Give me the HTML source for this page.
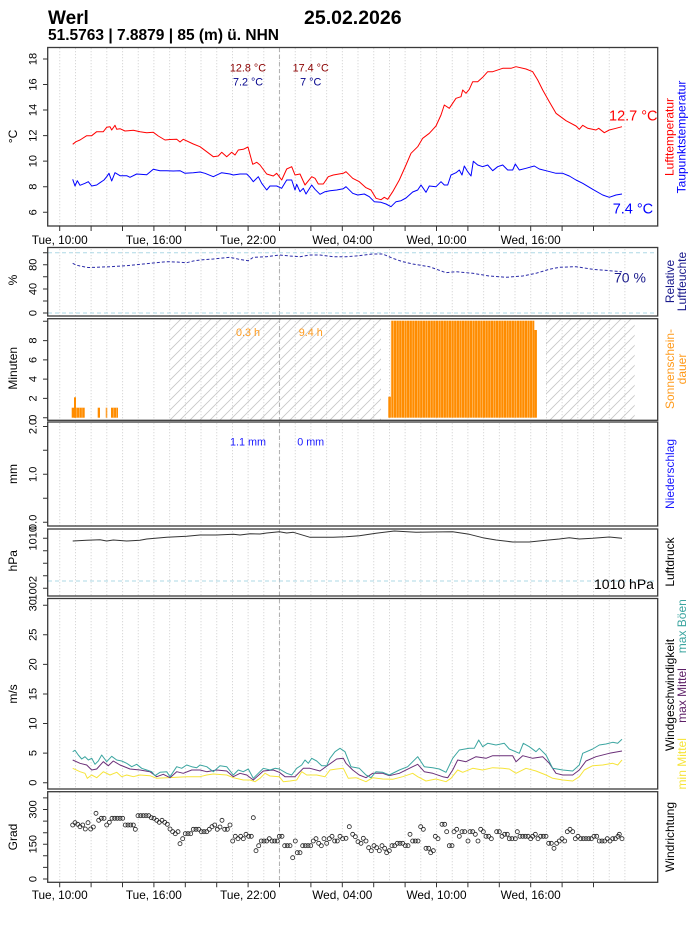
<!DOCTYPE html>
<html>
<head>
<meta charset="utf-8">
<style>
  html,body{margin:0;padding:0;background:#fff;}
  svg{display:block;font-family:"Liberation Sans",Arial,sans-serif;}
</style>
</head>
<body>
<svg width="696" height="930" viewBox="0 0 696 930" xmlns="http://www.w3.org/2000/svg">
<defs>
  <pattern id="grid" patternUnits="userSpaceOnUse" x="59.3" y="0" width="15.7" height="3">
    <rect x="0" y="0" width="0.8" height="1.3" fill="#cfcfcf"/>
  </pattern>
  <pattern id="hatch" patternUnits="userSpaceOnUse" x="0" y="0" width="10" height="10">
    <path d="M0,10 L10,0 M-2,2 L2,-2 M8,12 L12,8" stroke="#c6c6c6" stroke-width="0.8" fill="none"/>
  </pattern>
  <pattern id="sun" patternUnits="userSpaceOnUse" x="388.3" y="0" width="2.617" height="10">
    <rect x="0" y="0" width="2.617" height="10" fill="#FF8C00"/>
    <rect x="0" y="0" width="0.45" height="10" fill="#ffd7a0"/>
  </pattern>
</defs>

<rect x="0" y="0" width="696" height="930" fill="#fff"/>

<!-- Header -->
<text x="48" y="24" font-size="19" font-weight="bold" fill="#000">Werl</text>
<text x="304" y="24" font-size="19.5" font-weight="bold" fill="#000">25.02.2026</text>
<text x="48" y="40" font-size="15.5" font-weight="bold" fill="#000">51.5763 | 7.8879 | 85 (m) ü. NHN</text>

<!-- ============ Gridlines per panel ============ -->
<rect x="59" y="48" width="567" height="178" fill="url(#grid)"/>
<rect x="59" y="248" width="567" height="68" fill="url(#grid)"/>
<rect x="59" y="319" width="567" height="101" fill="url(#grid)"/>
<rect x="59" y="422" width="567" height="104" fill="url(#grid)"/>
<rect x="59" y="529" width="567" height="67" fill="url(#grid)"/>
<rect x="59" y="599" width="567" height="190" fill="url(#grid)"/>
<rect x="59" y="792" width="567" height="90" fill="url(#grid)"/>

<!-- midnight dashed lines -->
<g stroke="#a8a8a8" stroke-width="0.9" stroke-dasharray="4,3">
  <line x1="279.4" y1="48" x2="279.4" y2="226"/>
  <line x1="279.4" y1="248" x2="279.4" y2="316"/>
  <line x1="279.4" y1="319" x2="279.4" y2="420"/>
  <line x1="279.4" y1="422" x2="279.4" y2="526"/>
  <line x1="279.4" y1="529" x2="279.4" y2="596"/>
  <line x1="279.4" y1="599" x2="279.4" y2="789"/>
  <line x1="279.4" y1="792" x2="279.4" y2="882"/>
</g>

<!-- ============ Panel 1: Temperature ============ -->
<polyline fill="none" stroke="#ff0000" stroke-width="1" stroke-linejoin="round" points="72.7,144.3 76,141.7 80,140 86.7,135.7 91.7,135.7 96.7,131.7 103.3,131.7 106.7,127.3 110,126.7 111.7,130 115,125.3 116.7,129.3 120,128.7 125,131 133.3,130.3 140,131.7 146.7,132.7 153.3,132.3 158.3,136 165,140 170,139.5 176.7,139.3 180,142 183.3,139.3 193.3,144 200,146.7 206.7,151.7 213.3,156.7 218.3,156 221.7,152.3 226.7,156.7 231.7,152.3 235,155 238.3,150 243.3,149.3 248,147 252.7,164.3 256.7,162.3 260,165 266.7,174 273.3,176 276.7,173.3 281.7,180 286.7,169 291.7,166.7 295,175 300,174 305,185 311.7,176.7 315,178.3 318.3,184 323.3,184 328.3,176.7 333.3,175 343.3,173.3 346,171.7 352.7,178.3 359.3,181.7 366,187.7 371,190 376,198.3 381,199.7 384.3,197.3 387.7,199.3 392.7,191.7 399.3,180 406,165 411,153.3 417.7,146.7 422.7,138.3 429.3,133.3 436,126 441,115 444.3,105 449.3,108.3 456,98.3 461,96.7 462.7,90 466,93.3 469.3,89.3 472.7,81.7 477.7,81.7 482.7,77.3 487.7,71.7 492.7,71.7 502.7,68.3 511,68.3 516,66.7 526,69 532.7,71.7 537.7,80 542.7,90 549.3,101.7 556,113.3 566,120.7 576,126 579.3,129.3 582.7,125.3 587.7,128.3 596,130 598.7,128.3 604.3,132.7 609.3,130 616,128.3 622,126.7"/>
<polyline fill="none" stroke="#0000ff" stroke-width="1" stroke-linejoin="round" points="72.7,179.3 75,186 77.3,180.7 80,185.3 85,183.3 88.3,181.7 91.7,186 96.7,185 100,182.7 104,180 106.7,176.7 109,173.3 111.7,181 115,172.7 120,175.7 126.7,175.7 130,177.3 136.7,174 146.7,174.7 153.3,169.3 160,170.7 166.7,170.7 173.3,171 180,170.7 185,173.3 193.3,172.7 200,172 205,173.3 213.3,176.7 221.7,172.7 230,174 233.3,175 240,174 246.7,174 250,177.3 253.3,181.7 258.3,176.7 261.7,183.3 266.7,190 270,186 276.7,186 281.7,188.3 286.7,180 291.7,180 295,190 296.7,184.3 300,191.7 303.3,188.3 306,194 311.7,185 315,189.3 320,194.3 325,191.7 330,190.7 336.7,190 343.3,188.7 346,186.7 352.7,193.3 357.7,195 364.3,194 369.3,196.7 374.3,201.7 381,202.3 386,204 391,206.7 396,201.7 401,200.7 406,198 412.7,192 417.7,190 421,185 426,192.3 429.3,186 436,186.7 441,181.7 444.3,185 447.7,185 451,175 456,172.7 459.3,170 462,175 464.3,166 467.7,171.7 471,176 473.3,161.3 477.7,165 482.7,166.7 487.7,165 492.7,170.7 497.7,166.7 502.7,165 507.7,170 512.7,170 515.3,164 519.3,170 526,168.3 534.3,166 539.3,169 546,170.7 556,173.3 562.7,173.3 569.3,176 576,180 582.7,183.3 592.7,189.3 602.7,195 609.3,197.3 616,195 622,194"/>
<text x="248" y="71.5" font-size="10.8" fill="#8B0000" text-anchor="middle">12.8 °C</text>
<text x="248" y="85.3" font-size="10.8" fill="#00008B" text-anchor="middle">7.2 °C</text>
<text x="310.7" y="71.5" font-size="10.8" fill="#8B0000" text-anchor="middle">17.4 °C</text>
<text x="310.7" y="85.3" font-size="10.8" fill="#00008B" text-anchor="middle">7 °C</text>
<text x="609" y="120.7" font-size="14.5" fill="#ff0000">12.7 °C</text>
<text x="612.7" y="213.3" font-size="14.5" fill="#0000ff">7.4 °C</text>

<!-- ============ Panel 2: Humidity ============ -->
<g stroke="#add8e6" stroke-width="1" stroke-dasharray="4,3">
  <line x1="48" y1="252.7" x2="658" y2="252.7"/>
  <line x1="48" y1="313" x2="658" y2="313"/>
</g>
<polyline fill="none" stroke="#2a2aa8" stroke-width="1" stroke-dasharray="3,2" points="72.7,263.3 76,265 80,266 88,267.5 96.7,267.3 110,266.7 126.7,265.7 143.3,264 166.7,261.7 176.7,262 186.7,262.7 193.3,261 200,260 213.3,259 230,257.3 240,259.5 248.3,260.7 253.3,257.3 266.7,256.7 279.3,255 290,256 300,256.7 310,255 320,255 333.3,256.7 346,256.7 359.3,255.7 372.7,254 382.7,254 392.7,258.3 402.7,261.7 412.7,264 429.3,266.7 446,272.7 456,271.7 472.7,273.3 489.3,276 506,277.3 522.7,276 536,273.3 549.3,269.3 559.3,267.3 576,266.7 592.7,269.3 609.3,270.7 622,271.7"/>
<text x="614" y="282.7" font-size="14" fill="#1a1a8c">70 %</text>

<!-- ============ Panel 3: Sunshine ============ -->
<rect x="169.7" y="319" width="211.3" height="101" fill="url(#hatch)"/>
<rect x="546" y="319" width="88.7" height="101" fill="url(#hatch)"/>
<g fill="#FF8C00">
  <rect x="71.7" y="407.7" width="13" height="10"/>
  <rect x="74" y="397.3" width="2" height="20.4"/>
  <rect x="97.7" y="407.7" width="2.3" height="10"/>
  <rect x="105.7" y="407.7" width="1.6" height="10" opacity="0.8"/>
  <rect x="111" y="407.7" width="7" height="10"/>
  <rect x="388.3" y="396.7" width="2.6" height="21"/>
  <rect x="534.3" y="330" width="2.6" height="87.7"/>
</g>
<g fill="#ffd7a0">
  <rect x="76.6" y="407.7" width="0.45" height="10"/>
  <rect x="79.2" y="407.7" width="0.45" height="10"/>
  <rect x="81.8" y="407.7" width="0.45" height="10"/>
  <rect x="113.6" y="407.7" width="0.45" height="10"/>
  <rect x="116.2" y="407.7" width="0.45" height="10"/>
</g>
<rect x="390.9" y="320.7" width="143.4" height="97" fill="url(#sun)"/>
<text x="248" y="336" font-size="10.8" fill="#FF9A1A" text-anchor="middle">0.3 h</text>
<text x="310.7" y="336" font-size="10.8" fill="#FF9A1A" text-anchor="middle">9.4 h</text>

<!-- ============ Panel 4: Precip ============ -->
<text x="248" y="445.7" font-size="10.8" fill="#1a1aff" text-anchor="middle">1.1 mm</text>
<text x="310.7" y="445.7" font-size="10.8" fill="#1a1aff" text-anchor="middle">0 mm</text>

<!-- ============ Panel 5: Pressure ============ -->
<line x1="48" y1="581" x2="658" y2="581" stroke="#add8e6" stroke-width="1" stroke-dasharray="4,3"/>
<polyline fill="none" stroke="#333" stroke-width="1" stroke-linejoin="round" points="72.7,541 86.7,540.3 100,539.7 106.7,541 113.3,540 126.7,541 140,540.3 146.7,539 166.7,537.3 186.7,536.3 200,535 216.7,535 233.3,534.3 240,535 250,533.7 260,534 266.7,533 279.3,531.7 286.7,533 293.3,532.3 300,534.3 310,537.3 333.3,537.3 346,536.7 359.3,535.7 376,533.3 394.3,531 416,532.3 432.7,532 452.7,531.7 469.3,534.3 482.7,537.7 496,540 512.7,542 529.3,542 546,540.3 559.3,539 569.3,537.7 579.3,539 592.7,538.3 609.3,537 622,538.3"/>
<text x="594" y="589" font-size="14" fill="#000">1010 hPa</text>

<!-- ============ Panel 6: Wind speed ============ -->
<polyline fill="none" stroke="#f6e43a" stroke-width="1" stroke-linejoin="round" points="72.7,768.3 80,771.7 85,773.3 87.3,778.3 91.7,775 96.7,777.7 103.3,771.7 110,775 116.7,772.3 121.7,776.7 126.7,775 133.3,776.7 140,775 150,775.7 156.7,778.3 166.7,777.7 176.7,777.3 186.7,776.7 200,776.7 206.7,775 213.3,774 226.7,775 233.3,777.7 243.3,780 250,780 255,781.7 260,778.3 265,773.3 270,776 279.3,776.7 283.3,781.7 290,781 296.7,780 301.7,771.7 306.7,775 316.7,775 325,776.7 330,770 336.7,769 343.3,768.3 348.3,778.3 356,777.7 366,781.7 372.7,777.7 382.7,779 392.7,779.3 402.7,776.7 412.7,773.3 417.7,776.7 426,781 436,779 446,781.7 451,778.3 457.7,770 462.7,772.3 472.7,768.3 482.7,770 492.7,767.7 502.7,768.3 509.3,769 516,773.3 526,768.3 536,771 546,775 552.7,778.3 562.7,780 572.7,781 579.3,776.7 584.3,770 592.7,765.7 602.7,765 612.7,763.3 617.7,765 622,760"/>
<polyline fill="none" stroke="#6a2f78" stroke-width="1" stroke-linejoin="round" points="72.7,760 80,763.3 86.7,765 91.7,770 96.7,769 103.3,761.7 108.3,765.7 113.3,761 120,765 130,769 140,770 150,771.7 156.7,776.7 163.3,774.3 170,777.7 176.7,771.7 183.3,773.3 191.7,770 200,770 206.7,771.7 216.7,770 226.7,771 233.3,776.7 240,773.3 246.7,775 253.3,780 263.3,771 273.3,770 279.3,772.3 285,776.7 295,776.7 303.3,768.3 310,768.3 320,771 328.3,765 336.7,759 343.3,758.3 346,763.3 352.7,770 359.3,775 366,777.7 372.7,773.3 382.7,773.3 389.3,775.7 399.3,773.3 412.7,766.7 417.7,764.3 424.3,771.7 432.7,773.3 442.7,776.7 447.7,777.7 452.7,770 457.7,760 466,761.7 476,756.7 486,758.3 492.7,755.7 506,755.7 512.7,755.7 516,761.7 522.7,755.7 532.7,758.3 542.7,756.7 549.3,763.3 556,773.3 562.7,775 572.7,775 579.3,770 586,761 596,756.7 609.3,753.3 622,751"/>
<polyline fill="none" stroke="#3ba5a0" stroke-width="1" stroke-linejoin="round" points="72.7,751.7 75,750.3 78.3,755 81.7,759 85,756.7 88.3,760 91.7,758.3 95,764.3 98.3,761 101.7,755 106.7,761.7 111.7,756.3 116.7,760 121.7,761 126.7,763.3 131.7,766.7 136.7,764.3 141.7,768.3 146.7,770 151.7,771.7 155,775.7 160,772.3 166.7,771.7 170,776.7 176.7,766.7 181.7,768.3 186.7,765 191.7,766.7 196.7,767.7 200,765 206.7,766.7 213.3,771.7 220,765.7 226.7,766.7 233.3,775 238.3,770 243.3,771.7 248.3,769 253.3,778.3 258.3,773.3 263.3,768.3 270,770 275,768.3 279.3,769 286.7,773.3 291.7,775 296.7,768.3 301.7,765 305,760 308.3,763.3 311.7,758.3 316.7,761 321.7,765.7 326.7,765.7 330,758.3 335,751.7 340,748.3 345,751.7 346,754.3 351,766.7 359.3,768.3 366,775 371,777.7 376,771.7 382.7,772.3 389.3,775 399.3,770 407.7,766.7 412.7,761.7 417.7,756.7 424.3,766.7 432.7,767.7 439.3,769 446,772.3 452.7,758.3 459.3,750 469.3,748.3 474.3,748.3 478.7,740 482.7,746.7 487.7,743.3 496,745 504.3,743.3 509.3,749 519.3,753.3 523.3,743.3 529.3,746.7 536,751.7 539.3,748.3 546,755 552.7,768.3 562.7,770 572.7,771 579.3,765 582.7,753.3 592.7,749 599.3,745 606,744 612.7,742.3 617.7,743.3 622,739.3"/>

<!-- ============ Panel 7: Wind direction ============ -->
<g fill="none" stroke="#222" stroke-width="0.8">
<circle cx="72.7" cy="825" r="2"/><circle cx="75" cy="822.7" r="2"/><circle cx="77.7" cy="824.3" r="2"/><circle cx="80" cy="826.7" r="2"/><circle cx="82.7" cy="825" r="2"/><circle cx="85.3" cy="829" r="2"/><circle cx="88" cy="822.7" r="2"/><circle cx="90.7" cy="829" r="2"/><circle cx="93.3" cy="827" r="2"/><circle cx="96" cy="813.3" r="2"/><circle cx="98.7" cy="820.3" r="2"/><circle cx="101.3" cy="818.3" r="2"/><circle cx="104" cy="818.3" r="2"/><circle cx="106.7" cy="825" r="2"/><circle cx="109.3" cy="822.3" r="2"/><circle cx="112" cy="818.3" r="2"/><circle cx="114.7" cy="818.3" r="2"/><circle cx="117.3" cy="818.3" r="2"/><circle cx="120" cy="818.3" r="2"/><circle cx="122.7" cy="818.3" r="2"/><circle cx="125.3" cy="825" r="2"/><circle cx="128" cy="825" r="2"/><circle cx="130.7" cy="825" r="2"/><circle cx="133.3" cy="825" r="2"/><circle cx="135.3" cy="829.3" r="2"/><circle cx="138" cy="815.7" r="2"/><circle cx="140.7" cy="815.7" r="2"/><circle cx="143.3" cy="815.7" r="2"/><circle cx="146" cy="815.7" r="2"/><circle cx="148.7" cy="815.7" r="2"/><circle cx="151.3" cy="817.7" r="2"/><circle cx="154" cy="818.3" r="2"/><circle cx="156.7" cy="820.3" r="2"/><circle cx="159.3" cy="822.3" r="2"/><circle cx="162" cy="820.3" r="2"/><circle cx="164.7" cy="822.3" r="2"/><circle cx="167.3" cy="824.3" r="2"/><circle cx="170" cy="829" r="2"/><circle cx="172.7" cy="831.7" r="2"/><circle cx="175.3" cy="833.7" r="2"/><circle cx="178" cy="831.7" r="2"/><circle cx="180" cy="843.7" r="2"/><circle cx="182.7" cy="838.7" r="2"/><circle cx="185.3" cy="833.7" r="2"/><circle cx="188" cy="833.7" r="2"/><circle cx="190.7" cy="833.7" r="2"/><circle cx="193.3" cy="829.3" r="2"/><circle cx="196" cy="829.3" r="2"/><circle cx="198.7" cy="829.3" r="2"/><circle cx="201.3" cy="831.7" r="2"/><circle cx="204" cy="831.7" r="2"/><circle cx="206.7" cy="831.7" r="2"/><circle cx="209.3" cy="829.3" r="2"/><circle cx="212" cy="826.7" r="2"/><circle cx="214.7" cy="825" r="2"/><circle cx="217.3" cy="829.3" r="2"/><circle cx="220" cy="827" r="2"/><circle cx="222" cy="820.3" r="2"/><circle cx="224.7" cy="829.3" r="2"/><circle cx="227.3" cy="829.3" r="2"/><circle cx="230" cy="825" r="2"/><circle cx="232.7" cy="841" r="2"/><circle cx="235.3" cy="836.3" r="2"/><circle cx="238" cy="838.7" r="2"/><circle cx="240.7" cy="836.3" r="2"/><circle cx="243.3" cy="838.7" r="2"/><circle cx="246" cy="834.3" r="2"/><circle cx="248.7" cy="836.3" r="2"/><circle cx="251.3" cy="836.3" r="2"/><circle cx="253.3" cy="817.7" r="2"/><circle cx="256" cy="850.7" r="2"/><circle cx="258.7" cy="845.7" r="2"/><circle cx="261.3" cy="841" r="2"/><circle cx="264" cy="841" r="2"/><circle cx="266.7" cy="841" r="2"/><circle cx="269.3" cy="838.7" r="2"/><circle cx="272" cy="841" r="2"/><circle cx="274.7" cy="841" r="2"/><circle cx="277.3" cy="841" r="2"/><circle cx="279.3" cy="836.3" r="2"/><circle cx="282" cy="836.3" r="2"/><circle cx="284.7" cy="845.7" r="2"/><circle cx="287.3" cy="845.7" r="2"/><circle cx="290" cy="845.7" r="2"/><circle cx="292.7" cy="857.7" r="2"/><circle cx="295.3" cy="841" r="2"/><circle cx="297.3" cy="852.7" r="2"/><circle cx="300" cy="852.7" r="2"/><circle cx="302.7" cy="845.7" r="2"/><circle cx="305.3" cy="845.7" r="2"/><circle cx="308" cy="845.7" r="2"/><circle cx="310.7" cy="845.7" r="2"/><circle cx="313.3" cy="841" r="2"/><circle cx="316" cy="838.7" r="2"/><circle cx="318.7" cy="843.3" r="2"/><circle cx="321.3" cy="845.7" r="2"/><circle cx="324" cy="838.7" r="2"/><circle cx="326.7" cy="843.3" r="2"/><circle cx="329.3" cy="838.7" r="2"/><circle cx="332" cy="836.3" r="2"/><circle cx="334.7" cy="841" r="2"/><circle cx="337.3" cy="841" r="2"/><circle cx="340" cy="836.3" r="2"/><circle cx="342.7" cy="838.7" r="2"/>
<circle cx="346" cy="838.3" r="2"/><circle cx="349.3" cy="826.7" r="2"/><circle cx="352.7" cy="834.3" r="2"/><circle cx="355.3" cy="836.7" r="2"/><circle cx="358" cy="841.7" r="2"/><circle cx="361" cy="843.3" r="2"/><circle cx="363.3" cy="838.3" r="2"/><circle cx="366" cy="841" r="2"/><circle cx="368.7" cy="847.7" r="2"/><circle cx="371.3" cy="850.7" r="2"/><circle cx="374" cy="845.7" r="2"/><circle cx="376.7" cy="847.7" r="2"/><circle cx="379.3" cy="850.7" r="2"/><circle cx="382" cy="845.7" r="2"/><circle cx="384.7" cy="848.3" r="2"/><circle cx="386.7" cy="852.7" r="2"/><circle cx="389.3" cy="850.7" r="2"/><circle cx="392" cy="845.7" r="2"/><circle cx="394.7" cy="845.7" r="2"/><circle cx="397.3" cy="843.3" r="2"/><circle cx="400" cy="843.3" r="2"/><circle cx="402.7" cy="843.3" r="2"/><circle cx="405.3" cy="845.7" r="2"/><circle cx="408" cy="845.7" r="2"/><circle cx="410" cy="834.3" r="2"/><circle cx="412.7" cy="841" r="2"/><circle cx="415.3" cy="841" r="2"/><circle cx="418" cy="841" r="2"/><circle cx="420.7" cy="826.7" r="2"/><circle cx="423.3" cy="829.3" r="2"/><circle cx="426" cy="848.3" r="2"/><circle cx="428.7" cy="848.3" r="2"/><circle cx="430.7" cy="852.7" r="2"/><circle cx="433.3" cy="850.7" r="2"/><circle cx="435.3" cy="836.3" r="2"/><circle cx="438" cy="838.7" r="2"/><circle cx="442" cy="824.3" r="2"/><circle cx="444.7" cy="824.3" r="2"/><circle cx="446.7" cy="831.7" r="2"/><circle cx="449.3" cy="845.7" r="2"/><circle cx="452" cy="845.7" r="2"/><circle cx="454" cy="831.7" r="2"/><circle cx="456.7" cy="829.3" r="2"/><circle cx="459.3" cy="836.3" r="2"/><circle cx="462" cy="831.7" r="2"/><circle cx="464.7" cy="831.7" r="2"/><circle cx="468" cy="841" r="2"/><circle cx="470" cy="831.7" r="2"/><circle cx="472.7" cy="831.7" r="2"/><circle cx="475.3" cy="834.3" r="2"/><circle cx="478" cy="841" r="2"/><circle cx="480.7" cy="829.3" r="2"/><circle cx="483.3" cy="831.7" r="2"/><circle cx="486" cy="836.3" r="2"/><circle cx="488.7" cy="836.3" r="2"/><circle cx="491.3" cy="838.7" r="2"/><circle cx="496.7" cy="831.7" r="2"/><circle cx="499.3" cy="831.7" r="2"/><circle cx="502" cy="836.3" r="2"/><circle cx="504.7" cy="834.3" r="2"/><circle cx="507.3" cy="834.3" r="2"/><circle cx="509.3" cy="838.7" r="2"/><circle cx="512" cy="838.7" r="2"/><circle cx="515.3" cy="838.7" r="2"/><circle cx="517.3" cy="831.7" r="2"/><circle cx="520" cy="836.3" r="2"/><circle cx="522.7" cy="836.3" r="2"/><circle cx="525.3" cy="836.3" r="2"/><circle cx="528" cy="836.3" r="2"/><circle cx="530.7" cy="838.7" r="2"/><circle cx="532.7" cy="836.3" r="2"/><circle cx="535.3" cy="834.3" r="2"/><circle cx="538" cy="838.7" r="2"/><circle cx="540.7" cy="836.3" r="2"/><circle cx="543.3" cy="836.3" r="2"/><circle cx="546" cy="836.3" r="2"/><circle cx="548.7" cy="843.3" r="2"/><circle cx="551.3" cy="843.3" r="2"/><circle cx="554" cy="848.3" r="2"/><circle cx="556.7" cy="843.3" r="2"/><circle cx="559.3" cy="841" r="2"/><circle cx="562" cy="838.7" r="2"/><circle cx="564.7" cy="841" r="2"/><circle cx="567.3" cy="831.7" r="2"/><circle cx="570" cy="829.3" r="2"/><circle cx="572.7" cy="831.7" r="2"/><circle cx="575.3" cy="838.7" r="2"/><circle cx="578" cy="836.3" r="2"/><circle cx="580.7" cy="838.7" r="2"/><circle cx="583.3" cy="838.7" r="2"/><circle cx="586" cy="838.7" r="2"/><circle cx="588.7" cy="838.7" r="2"/><circle cx="591.3" cy="838.7" r="2"/><circle cx="594" cy="836.3" r="2"/><circle cx="596.7" cy="836.3" r="2"/><circle cx="599.3" cy="841" r="2"/><circle cx="602" cy="841" r="2"/><circle cx="604.7" cy="841" r="2"/><circle cx="607.3" cy="838.7" r="2"/><circle cx="610" cy="841" r="2"/><circle cx="612.7" cy="838.7" r="2"/><circle cx="615.3" cy="838.7" r="2"/><circle cx="618" cy="836.3" r="2"/><circle cx="619.3" cy="834.3" r="2"/><circle cx="622" cy="838.7" r="2"/>
</g>

<!-- ============ Panel frames ============ -->
<g fill="none" stroke="#3a3a3a" stroke-width="1.3">
  <rect x="47.7" y="47.5" width="610" height="178.5"/>
  <rect x="47.7" y="247.5" width="610" height="68.5"/>
  <rect x="47.7" y="318.7" width="610" height="101.6"/>
  <rect x="47.7" y="422" width="610" height="104"/>
  <rect x="47.7" y="529" width="610" height="67"/>
  <rect x="47.7" y="598.5" width="610" height="190.5"/>
  <rect x="47.7" y="791.7" width="610" height="90.6"/>
</g>

<!-- ============ X axis ticks (temp panel & bottom) ============ -->
<g stroke="#333" stroke-width="1">
  <path d="M59.7,226 v5 M91.1,226 v5 M122.5,226 v5 M153.9,226 v5 M185.3,226 v5 M216.7,226 v5 M248.1,226 v5 M279.5,226 v5 M310.9,226 v5 M342.3,226 v5 M373.7,226 v5 M405.1,226 v5 M436.5,226 v5 M467.9,226 v5 M499.3,226 v5 M530.7,226 v5 M562.1,226 v5 M593.5,226 v5"/>
  <path d="M59.7,882.3 v5 M91.1,882.3 v5 M122.5,882.3 v5 M153.9,882.3 v5 M185.3,882.3 v5 M216.7,882.3 v5 M248.1,882.3 v5 M279.5,882.3 v5 M310.9,882.3 v5 M342.3,882.3 v5 M373.7,882.3 v5 M405.1,882.3 v5 M436.5,882.3 v5 M467.9,882.3 v5 M499.3,882.3 v5 M530.7,882.3 v5 M562.1,882.3 v5 M593.5,882.3 v5"/>
</g>
<g font-size="11.8" fill="#000" text-anchor="middle">
  <text x="59.7" y="244">Tue, 10:00</text>
  <text x="153.9" y="244">Tue, 16:00</text>
  <text x="248.1" y="244">Tue, 22:00</text>
  <text x="342.3" y="244">Wed, 04:00</text>
  <text x="436.5" y="244">Wed, 10:00</text>
  <text x="530.7" y="244">Wed, 16:00</text>
  <text x="59.7" y="899">Tue, 10:00</text>
  <text x="153.9" y="899">Tue, 16:00</text>
  <text x="248.1" y="899">Tue, 22:00</text>
  <text x="342.3" y="899">Wed, 04:00</text>
  <text x="436.5" y="899">Wed, 10:00</text>
  <text x="530.7" y="899">Wed, 16:00</text>
</g>

<!-- ============ Y axis ticks ============ -->
<g stroke="#333" stroke-width="1">
  <path d="M43,212.3 h5 M43,186.7 h5 M43,161.1 h5 M43,135.6 h5 M43,110 h5 M43,84.5 h5 M43,59 h5"/>
  <path d="M43,313 h5 M43,301 h5 M43,289 h5 M43,276.8 h5 M43,264.7 h5 M43,252.7 h5"/>
  <path d="M43,417.7 h5 M43,398.4 h5 M43,379.1 h5 M43,359.9 h5 M43,340.6 h5 M43,321.3 h5"/>
  <path d="M43,522.3 h5 M43,498.3 h5 M43,474.3 h5 M43,450.3 h5 M43,426.5 h5"/>
  <path d="M43,538.3 h5 M43,550.8 h5 M43,563.3 h5 M43,575.8 h5 M43,588.3 h5"/>
  <path d="M43,782.7 h5 M43,753.1 h5 M43,723.5 h5 M43,694 h5 M43,664.4 h5 M43,634.8 h5 M43,605.2 h5"/>
  <path d="M43,879 h5 M43,867.4 h5 M43,855.8 h5 M43,844.2 h5 M43,832.7 h5 M43,821.1 h5 M43,809.5 h5 M43,797.9 h5"/>
</g>
<g font-size="11" fill="#000" text-anchor="middle">
  <text transform="translate(36.7,212.3) rotate(-90)">6</text>
  <text transform="translate(36.7,186.7) rotate(-90)">8</text>
  <text transform="translate(36.7,161.1) rotate(-90)">10</text>
  <text transform="translate(36.7,135.6) rotate(-90)">12</text>
  <text transform="translate(36.7,110) rotate(-90)">14</text>
  <text transform="translate(36.7,84.5) rotate(-90)">16</text>
  <text transform="translate(36.7,59) rotate(-90)">18</text>

  <text transform="translate(36.7,313) rotate(-90)">0</text>
  <text transform="translate(36.7,289) rotate(-90)">40</text>
  <text transform="translate(36.7,264.7) rotate(-90)">80</text>

  <text transform="translate(36.7,417.7) rotate(-90)">0</text>
  <text transform="translate(36.7,398.4) rotate(-90)">2</text>
  <text transform="translate(36.7,379.1) rotate(-90)">4</text>
  <text transform="translate(36.7,359.9) rotate(-90)">6</text>
  <text transform="translate(36.7,340.6) rotate(-90)">8</text>

  <text transform="translate(36.7,522.3) rotate(-90)">0.0</text>
  <text transform="translate(36.7,474.3) rotate(-90)">1.0</text>
  <text transform="translate(36.7,426.5) rotate(-90)">2.0</text>

  <text transform="translate(36.7,538.3) rotate(-90)">1010</text>
  <text transform="translate(36.7,588.3) rotate(-90)">1002</text>

  <text transform="translate(36.7,782.7) rotate(-90)">0</text>
  <text transform="translate(36.7,753.1) rotate(-90)">5</text>
  <text transform="translate(36.7,723.5) rotate(-90)">10</text>
  <text transform="translate(36.7,694) rotate(-90)">15</text>
  <text transform="translate(36.7,664.4) rotate(-90)">20</text>
  <text transform="translate(36.7,634.8) rotate(-90)">25</text>
  <text transform="translate(36.7,605.2) rotate(-90)">30</text>

  <text transform="translate(36.7,879) rotate(-90)">0</text>
  <text transform="translate(36.7,844.2) rotate(-90)">150</text>
  <text transform="translate(36.7,809.5) rotate(-90)">300</text>
</g>

<!-- Axis titles -->
<g font-size="12" fill="#000" text-anchor="middle">
  <text transform="translate(17,136.5) rotate(-90)">°C</text>
  <text transform="translate(17,280) rotate(-90)">%</text>
  <text transform="translate(17,368.3) rotate(-90)">Minuten</text>
  <text transform="translate(17,474) rotate(-90)">mm</text>
  <text transform="translate(17,560.8) rotate(-90)">hPa</text>
  <text transform="translate(17,694) rotate(-90)">m/s</text>
  <text transform="translate(17,837) rotate(-90)">Grad</text>
</g>

<!-- Right-side labels -->
<g font-size="12" text-anchor="middle">
  <text transform="translate(673.5,137) rotate(-90)" fill="#ff0000">Lufttemperatur</text>
  <text transform="translate(685.5,137) rotate(-90)" fill="#0000ff">Taupunktstemperatur</text>

  <text transform="translate(674,281.5) rotate(-90)" fill="#1a1a8c">Relative</text>
  <text transform="translate(686,281.5) rotate(-90)" fill="#1a1a8c">Luftfeuchte</text>

  <text transform="translate(674,369) rotate(-90)" fill="#FF9A1A">Sonnenschein-</text>
  <text transform="translate(686,369) rotate(-90)" fill="#FF9A1A">dauer</text>

  <text transform="translate(674,474) rotate(-90)" fill="#1a1aff">Niederschlag</text>

  <text transform="translate(674,562) rotate(-90)" fill="#000">Luftdruck</text>

  <text transform="translate(674,695) rotate(-90)" fill="#000">Windgeschwindigkeit</text>
  <text transform="translate(686,763.8) rotate(-90)" fill="#f6e43a">min Mittel</text>
  <text transform="translate(686,695.5) rotate(-90)" fill="#5c1f66">max Mittel</text>
  <text transform="translate(686,626.2) rotate(-90)" fill="#3ba5a0">max Böen</text>

  <text transform="translate(674,837) rotate(-90)" fill="#000">Windrichtung</text>
</g>
</svg>
</body>
</html>
